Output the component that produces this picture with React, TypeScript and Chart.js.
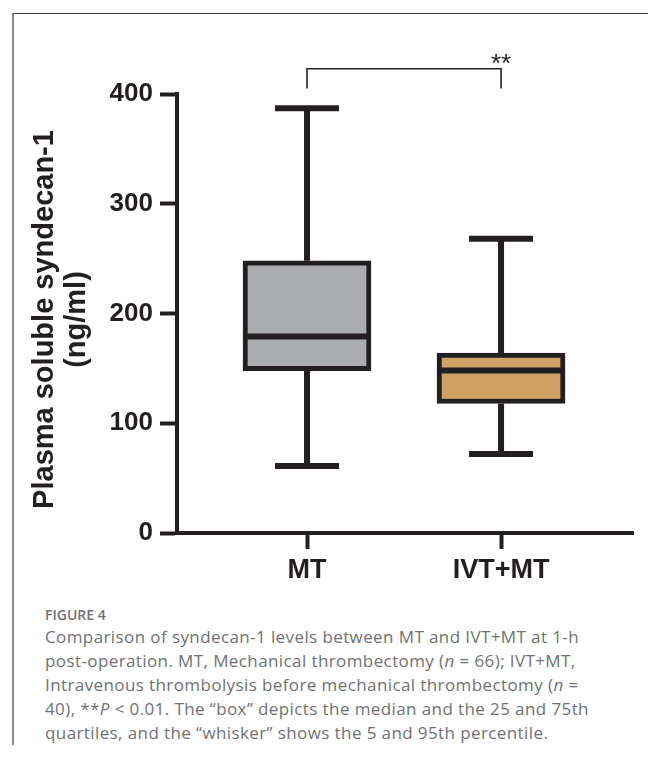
import React, { useEffect, useRef } from 'react';
import { Chart, registerables } from 'chart.js';

Chart.register(...registerables);

const groups = ['MT', 'IVT+MT'];
const groupPositions = [1, 2];
const q1 = [148, 118];
const q3 = [248, 164];
const medians = [179, 148];
const whiskerLow = [61, 72];
const whiskerHigh = [387, 268];
const boxColors = ['#abacb0', '#cfa162'];
const yTicks = [0, 100, 200, 300, 400];
const yTitleLines = ['Plasma soluble syndecan-1', '(ng/ml)'];
const sigLabel = '**';
const sigBracketTop = 423;
const sigBracketTip = 405;

const INK = '#231f20';
const FONT = "'Liberation Sans', Arial, Helvetica, sans-serif";

const boxPlugin = {
  id: 'boxExtras',
  beforeDatasetsDraw(chart: any) {
    const { ctx, scales } = chart;
    const xs = scales.x;
    const ys = scales.y;
    ctx.save();
    ctx.strokeStyle = INK;
    ctx.lineCap = 'butt';
    groupPositions.forEach((pos, i) => {
      const xp = xs.getPixelForValue(pos);
      ctx.lineWidth = 6;
      ctx.beginPath();
      ctx.moveTo(xp, ys.getPixelForValue(q3[i]));
      ctx.lineTo(xp, ys.getPixelForValue(whiskerHigh[i]));
      ctx.moveTo(xp, ys.getPixelForValue(q1[i]));
      ctx.lineTo(xp, ys.getPixelForValue(whiskerLow[i]));
      ctx.stroke();
      ctx.beginPath();
      const hi = ys.getPixelForValue(whiskerHigh[i]);
      const lo = ys.getPixelForValue(whiskerLow[i]);
      ctx.moveTo(xp - 32, hi);
      ctx.lineTo(xp + 32, hi);
      ctx.moveTo(xp - 32, lo);
      ctx.lineTo(xp + 32, lo);
      ctx.stroke();
    });
    ctx.restore();
  },
  afterDatasetsDraw(chart: any) {
    const { ctx, scales } = chart;
    const xs = scales.x;
    const ys = scales.y;
    ctx.save();
    ctx.strokeStyle = INK;
    ctx.lineWidth = 6;
    groupPositions.forEach((pos, i) => {
      const xp = xs.getPixelForValue(pos);
      const m = ys.getPixelForValue(medians[i]);
      ctx.beginPath();
      ctx.moveTo(xp - 62, m);
      ctx.lineTo(xp + 62, m);
      ctx.stroke();
    });
    // significance bracket
    const x1 = xs.getPixelForValue(groupPositions[0]);
    const x2 = xs.getPixelForValue(groupPositions[1]);
    const yt = ys.getPixelForValue(sigBracketTop);
    const yb = ys.getPixelForValue(sigBracketTip);
    ctx.lineWidth = 1.6;
    ctx.beginPath();
    ctx.moveTo(x1, yb);
    ctx.lineTo(x1, yt);
    ctx.lineTo(x2, yt);
    ctx.lineTo(x2, yb);
    ctx.stroke();
    ctx.fillStyle = INK;
    ctx.font = `26px ${FONT}`;
    ctx.textAlign = 'center';
    ctx.textBaseline = 'alphabetic';
    ctx.fillText(sigLabel, x2, yt + 3);

    // y-axis title (two lines, rotated)
    const ca = chart.chartArea;
    ctx.font = `bold 29px ${FONT}`;
    ctx.textBaseline = 'middle';
    ctx.textAlign = 'center';
    const cy = (ca.top + ca.bottom) / 2 + 6;
    const lineX = [37, 69];
    yTitleLines.forEach((t, i) => {
      ctx.save();
      ctx.translate(lineX[i], cy);
      ctx.rotate(-Math.PI / 2);
      ctx.fillText(t, 0, 0);
      ctx.restore();
    });
    ctx.restore();
  },
};

export default function App() {
  const ref = useRef<HTMLCanvasElement | null>(null);

  useEffect(() => {
    if (!ref.current) return;
    const chart = new Chart(ref.current, {
      type: 'bar',
      data: {
        datasets: [
          {
            data: groupPositions.map((x, i) => ({ x, y: [q1[i], q3[i]] })) as any,
            backgroundColor: boxColors,
            borderColor: INK,
            borderWidth: 5,
            borderSkipped: false,
            barThickness: 128,
          },
        ],
      },
      options: {
        animation: false,
        responsive: false,
        events: [],
        layout: { padding: { left: 0, top: 86, right: 15, bottom: 5 } },
        plugins: { legend: { display: false }, tooltip: { enabled: false } },
        scales: {
          x: {
            type: 'linear',
            offset: false,
            min: 0.33,
            max: 2.68,
            afterBuildTicks: (s: any) => {
              s.ticks = groupPositions.map((v) => ({ value: v }));
            },
            afterFit: (s: any) => {
              s.height = 50;
            },
            ticks: {
              autoSkip: false,
              maxRotation: 0,
              padding: 5,
              color: INK,
              font: { family: FONT, weight: 'bold', size: 27 },
              callback: (v: any) => {
                const idx = groupPositions.indexOf(Number(v));
                return idx >= 0 ? groups[idx] : '';
              },
            },
            grid: { offset: false, drawOnChartArea: false, drawTicks: true, tickLength: 16, tickWidth: 4, tickColor: INK },
            border: { display: true, width: 4, color: INK },
          },
          y: {
            type: 'linear',
            min: 0,
            max: 400,
            afterBuildTicks: (s: any) => {
              s.ticks = yTicks.map((v) => ({ value: v }));
            },
            afterFit: (s: any) => {
              s.width = 169;
            },
            ticks: {
              padding: 7,
              color: INK,
              font: { family: FONT, weight: 'bold', size: 26 },
            },
            grid: { drawOnChartArea: false, drawTicks: true, tickLength: 17, tickWidth: 4, tickColor: INK },
            border: { display: true, width: 4, color: INK },
            title: { display: false },
          },
        },
      } as any,
      plugins: [boxPlugin],
    });
    return () => chart.destroy();
  }, []);

  const captionStyle: React.CSSProperties = {
    marginLeft: 37,
    marginTop: 17,
    fontFamily: "'Open Sans', 'Noto Sans', sans-serif",
    color: '#707173',
    whiteSpace: 'nowrap',
  };

  return (
    <div style={{ position: 'relative', width: 640 }}>
      <div
        style={{
          position: 'absolute',
          left: 4,
          top: 5,
          width: 644,
          height: 752,
          boxSizing: 'border-box',
          borderTop: '1px solid #333',
          borderLeft: '2px solid #8c8c8c',
          borderRight: '2px solid #8c8c8c',
          pointerEvents: 'none',
        }}
      />
      <canvas ref={ref} width={640} height={580} style={{ display: 'block', position: 'relative' }} />
      <div style={captionStyle}>
        <div style={{ fontSize: 14, fontWeight: 600, lineHeight: '20px' }}>FIGURE 4</div>
        <div style={{ fontSize: 17, fontWeight: 400, lineHeight: '24px', letterSpacing: '0.4px' }}>
          Comparison of syndecan-1 levels between MT and IVT+MT at 1-h
          <br />
          post-operation. MT, Mechanical thrombectomy (<i>n</i> = 66); IVT+MT,
          <br />
          Intravenous thrombolysis before mechanical thrombectomy (<i>n</i> =
          <br />
          40), **<i>P</i> &lt; 0.01. The “box” depicts the median and the 25 and 75th
          <br />
          quartiles, and the “whisker” shows the 5 and 95th percentile.
        </div>
      </div>
    </div>
  );
}
